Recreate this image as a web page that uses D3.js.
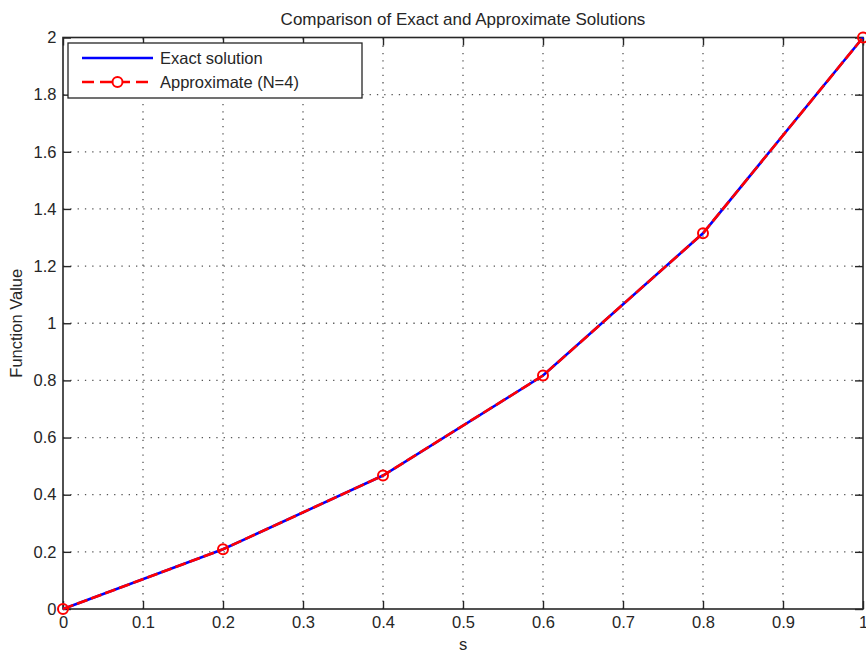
<!DOCTYPE html>
<html>
<head>
<meta charset="utf-8">
<script src="https://cdn.jsdelivr.net/npm/d3@7"></script>
<style>
  html, body { margin: 0; padding: 0; background: #fff; }
  svg { display: block; font-family: "Liberation Sans", Arial, Helvetica, sans-serif; }
</style>
</head>
<body>
<svg id="chart" width="866" height="654"></svg>
<script>
// Sample points s and the two solution series
const sValues = [0, 0.2, 0.4, 0.6, 0.8, 1.0];
const exactValues = [0, 0.209, 0.467, 0.817, 1.315, 2.0];
const approxValues = [0, 0.209, 0.467, 0.817, 1.315, 2.0];

const xTicks = [0, 0.1, 0.2, 0.3, 0.4, 0.5, 0.6, 0.7, 0.8, 0.9, 1];
const yTicks = [0, 0.2, 0.4, 0.6, 0.8, 1, 1.2, 1.4, 1.6, 1.8, 2];

const titleText = "Comparison of Exact and Approximate Solutions";
const xLabel = "s";
const yLabel = "Function Value";
const seriesNames = ["Exact solution", "Approximate (N=4)"];

(function draw() {
  const svg = d3.select("#chart");
  const plotLeft = 63, plotRight = 863, plotTop = 37.5, plotBottom = 609;
  const fontSize = 16.5;
  const ink = "#262626";

  const x = d3.scaleLinear().domain([0, 1]).range([plotLeft, plotRight]);
  const y = d3.scaleLinear().domain([0, 2]).range([plotBottom, plotTop]);

  // Dotted grid
  const grid = svg.append("g").attr("stroke", "#555").attr("stroke-width", 1.3)
    .attr("stroke-dasharray", "1.3,6").attr("fill", "none");
  xTicks.slice(1, -1).forEach(t => {
    grid.append("line").attr("x1", x(t)).attr("x2", x(t)).attr("y1", plotBottom).attr("y2", plotTop);
  });
  yTicks.slice(1, -1).forEach(t => {
    grid.append("line").attr("y1", y(t)).attr("y2", y(t)).attr("x1", plotLeft).attr("x2", plotRight);
  });

  // Axes: ticks point inward on all four sides
  const tickLen = 8;
  const axisStyle = g => {
    g.select(".domain").remove();
    g.selectAll(".tick line").attr("stroke", ink).attr("stroke-width", 1.4);
    g.selectAll(".tick text").attr("fill", ink).attr("font-size", fontSize)
      .attr("font-family", "Liberation Sans, Arial, sans-serif");
  };
  svg.append("g").attr("transform", `translate(0,${plotBottom})`)
    .call(d3.axisBottom(x).tickValues(xTicks).tickFormat(d3.format("~g"))
      .tickSizeInner(-tickLen).tickSizeOuter(0).tickPadding(7.5))
    .call(axisStyle);
  svg.append("g").attr("transform", `translate(0,${plotTop})`)
    .call(d3.axisTop(x).tickValues(xTicks).tickFormat("").tickSizeInner(-tickLen).tickSizeOuter(0))
    .call(axisStyle);
  svg.append("g").attr("transform", `translate(${plotLeft},0)`)
    .call(d3.axisLeft(y).tickValues(yTicks).tickFormat(d3.format("~g"))
      .tickSizeInner(-tickLen).tickSizeOuter(0).tickPadding(6.5))
    .call(axisStyle);
  svg.append("g").attr("transform", `translate(${plotRight},0)`)
    .call(d3.axisRight(y).tickValues(yTicks).tickFormat("").tickSizeInner(-tickLen).tickSizeOuter(0))
    .call(axisStyle);

  // Box frame
  svg.append("rect").attr("x", plotLeft).attr("y", plotTop)
    .attr("width", plotRight - plotLeft).attr("height", plotBottom - plotTop)
    .attr("fill", "none").attr("stroke", ink).attr("stroke-width", 1.6);

  // Series
  const pts = vals => sValues.map((s, i) => [x(s), y(vals[i])]);
  const line = d3.line();

  svg.append("path").attr("d", line(pts(exactValues)))
    .attr("fill", "none").attr("stroke", "#0000ff").attr("stroke-width", 2.6);
  svg.append("path").attr("d", line(pts(approxValues)))
    .attr("fill", "none").attr("stroke", "#ff0000").attr("stroke-width", 2.6)
    .attr("stroke-dasharray", "11,4");
  svg.append("g").selectAll("circle").data(pts(approxValues)).join("circle")
    .attr("cx", d => d[0]).attr("cy", d => d[1]).attr("r", 5)
    .attr("fill", "none").attr("stroke", "#ff0000").attr("stroke-width", 2);

  // Titles
  svg.append("text").attr("x", (plotLeft + plotRight) / 2).attr("y", 25)
    .attr("text-anchor", "middle").attr("font-size", 17).attr("fill", ink).text(titleText);
  svg.append("text").attr("x", (plotLeft + plotRight) / 2).attr("y", 650)
    .attr("text-anchor", "middle").attr("font-size", fontSize).attr("fill", ink).text(xLabel);
  svg.append("text").attr("transform", `translate(22,${(plotTop + plotBottom) / 2}) rotate(-90)`)
    .attr("text-anchor", "middle").attr("font-size", fontSize).attr("fill", ink).text(yLabel);

  // Legend
  const lg = svg.append("g");
  lg.append("rect").attr("x", 68).attr("y", 43).attr("width", 294).attr("height", 55)
    .attr("fill", "#fff").attr("stroke", ink).attr("stroke-width", 1.3);
  const rows = [58, 82];
  lg.append("line").attr("x1", 82).attr("x2", 153).attr("y1", rows[0]).attr("y2", rows[0])
    .attr("stroke", "#0000ff").attr("stroke-width", 2.6);
  lg.append("line").attr("x1", 82).attr("x2", 153).attr("y1", rows[1]).attr("y2", rows[1])
    .attr("stroke", "#ff0000").attr("stroke-width", 2.6).attr("stroke-dasharray", "12,6");
  lg.append("circle").attr("cx", 117.5).attr("cy", rows[1]).attr("r", 5)
    .attr("fill", "#fff").attr("stroke", "#ff0000").attr("stroke-width", 2);
  seriesNames.forEach((name, i) => {
    lg.append("text").attr("x", 160).attr("y", rows[i]).attr("dy", "0.35em")
      .attr("font-size", fontSize).attr("fill", ink).text(name);
  });
})();
</script>
</body>
</html>
